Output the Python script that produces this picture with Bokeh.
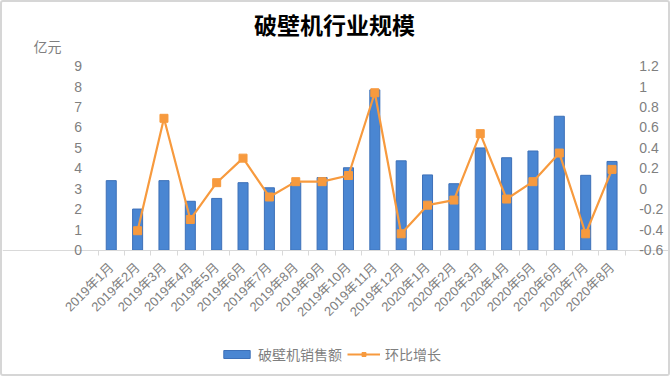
import math
from bokeh.plotting import figure
from bokeh.models import (Range1d, LinearAxis, FixedTicker, CustomJSTickFormatter,
                          Legend, LegendItem, Label, ColumnDataSource)
from bokeh.embed import file_html
from bokeh.resources import INLINE

# ---- data ----
months = ["2019年1月", "2019年2月", "2019年3月", "2019年4月", "2019年5月", "2019年6月",
          "2019年7月", "2019年8月", "2019年9月", "2019年10月", "2019年11月", "2019年12月",
          "2020年1月", "2020年2月", "2020年3月", "2020年4月", "2020年5月", "2020年6月",
          "2020年7月", "2020年8月"]
sales = [3.40, 2.01, 3.40, 2.39, 2.53, 3.30, 3.05, 3.30, 3.55, 4.03,
         7.84, 4.37, 3.68, 3.25, 5.00, 4.52, 4.85, 6.55, 3.66, 4.34]
growth = [None, -0.41, 0.69, -0.30, 0.06, 0.30, -0.08, 0.07, 0.07, 0.13,
          0.94, -0.44, -0.16, -0.11, 0.54, -0.10, 0.07, 0.35, -0.44, 0.19]
left_ticks = [0, 1, 2, 3, 4, 5, 6, 7, 8, 9]
right_ticks = [-0.6, -0.4, -0.2, 0, 0.2, 0.4, 0.6, 0.8, 1.0, 1.2]
title_text = "破壁机行业规模"
unit_text = "亿元"
bar_name = "破壁机销售额"
line_name = "环比增长"

# ---- styles ----
BLUE = "#4a86d2"
BLUE_EDGE = "#3d70b8"
ORANGE = "#f79a3e"
GRAY_TXT = "#7f7f7f"
AXIS_GRAY = "#d9d9d9"
LATIN = "Liberation Sans, Noto Sans CJK SC"
CJK = "Noto Sans CJK SC"

n = len(months)
centers = [i + 0.5 for i in range(n)]
bounds = [i for i in range(n + 1)]

bar_src = ColumnDataSource(dict(x=centers, top=sales))
gx = [centers[i] for i in range(n) if growth[i] is not None]
gy = [g for g in growth if g is not None]
line_src = ColumnDataSource(dict(x=gx, y=gy))

# ---- layout (pixels, inside a 2px css border) ----
W, H = 670, 376
B = 2
IW, IH = W - 2 * B, H - 2 * B          # drawing area
PL, PR, PT, PB = 95, 619, 63, 245      # plot area inside the drawing area
ppx = (PR - PL) / n
ppy = (PB - PT) / (left_ticks[-1] - left_ticks[0])
y0, y1 = left_ticks[0], left_ticks[-1]
ylo = y0 - (IH - PB) / ppy
yhi = y1 + PT / ppy
r0, r1 = right_ticks[0], right_ticks[-1]
rs = (r1 - r0) / (y1 - y0)

p = figure(width=W, height=H, output_backend="svg", toolbar_location=None,
           x_range=Range1d(-PL / ppx, n + (IW - PR) / ppx),
           y_range=Range1d(ylo, yhi),
           x_axis_location=None, y_axis_location=None, title=None,
           min_border=0, min_border_left=0, min_border_right=0,
           min_border_top=0, min_border_bottom=0)
p.outline_line_color = None
p.xgrid.visible = False
p.ygrid.visible = False
p.background_fill_color = "white"
p.border_fill_color = "white"
p.styles = {"border": "2px solid #d6d6d6", "box-sizing": "border-box", "border-radius": "3px"}

p.extra_y_ranges = {"r": Range1d(r0 + (ylo - y0) * rs, r0 + (yhi - y0) * rs)}

# x axis
xa = LinearAxis(ticker=FixedTicker(ticks=centers, minor_ticks=bounds),
                major_label_overrides={c: m for c, m in zip(centers, months)},
                fixed_location=0)
xa.major_label_orientation = math.pi / 4
xa.major_tick_line_color = None
xa.minor_tick_line_color = AXIS_GRAY
xa.minor_tick_out = 5
xa.minor_tick_in = 0
xa.axis_line_color = AXIS_GRAY
xa.axis_line_width = 1
xa.major_label_text_font = LATIN
xa.major_label_text_font_size = "13px"
xa.major_label_text_color = GRAY_TXT
xa.major_label_standoff = 9
p.add_layout(xa, "below")

# left axis
ya = LinearAxis(ticker=FixedTicker(ticks=left_ticks), fixed_location=0)
ya.axis_line_color = None
ya.major_tick_line_color = None
ya.minor_tick_line_color = None
ya.major_label_text_font = LATIN
ya.major_label_text_font_size = "14px"
ya.major_label_text_color = GRAY_TXT
ya.major_label_standoff = 10
p.add_layout(ya, "left")

# right axis
ra = LinearAxis(y_range_name="r", ticker=FixedTicker(ticks=right_ticks), fixed_location=n,
                formatter=CustomJSTickFormatter(code="return (Math.round(tick*10)/10).toString();"))
ra.axis_line_color = None
ra.major_tick_line_color = None
ra.minor_tick_line_color = None
ra.major_label_text_font = LATIN
ra.major_label_text_font_size = "14px"
ra.major_label_text_color = GRAY_TXT
ra.major_label_standoff = 8
p.add_layout(ra, "right")

bars = p.vbar(x="x", top="top", width=0.38, bottom=0, source=bar_src,
              fill_color=BLUE, line_color=BLUE_EDGE, line_width=1)
ln = p.line(x="x", y="y", source=line_src, y_range_name="r",
            line_color=ORANGE, line_width=2.2)
sc = p.scatter(x="x", y="y", source=line_src, y_range_name="r", marker="square",
               size=8, fill_color=ORANGE, line_color=ORANGE)

legend = Legend(items=[LegendItem(label=bar_name, renderers=[bars]),
                       LegendItem(label=line_name, renderers=[ln, sc])],
                orientation="horizontal", location=(218, 14),
                glyph_width=33, glyph_height=10, label_height=16,
                label_standoff=5, spacing=5, padding=0, margin=0,
                border_line_color=None, background_fill_alpha=0,
                label_text_font=CJK, label_text_font_size="14px",
                label_text_color=GRAY_TXT)
p.add_layout(legend, "center")

p.add_layout(Label(x=332, y=IH - 17, x_units="screen", y_units="screen",
                   text=title_text, text_font=CJK, text_font_size="23px",
                   text_font_style="bold", text_color="black",
                   text_align="center", text_baseline="middle"))
p.add_layout(Label(x=31, y=IH - 39, x_units="screen", y_units="screen",
                   text=unit_text, text_font=CJK, text_font_size="14px",
                   text_color=GRAY_TXT, text_align="left", text_baseline="middle"))

open("out.html", "w").write(file_html(p, INLINE))
